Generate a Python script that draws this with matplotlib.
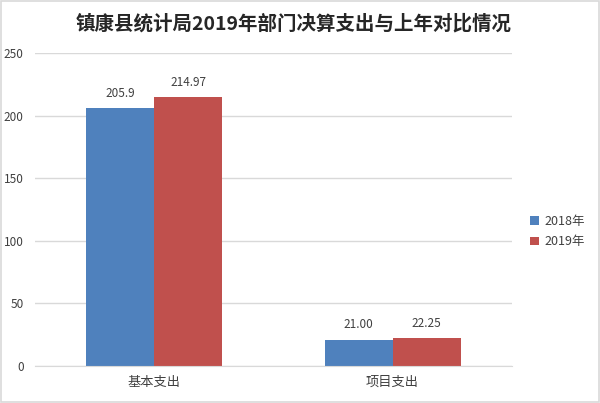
import matplotlib.pyplot as plt
import numpy as np

plt.rcParams['font.family'] = ['Noto Sans CJK SC', 'DejaVu Sans']

categorias = ["基本支出", "项目支出"]
series = ["2018年", "2019年"]
valores_2018 = [205.9, 21.00]
valores_2019 = [214.97, 22.25]
rotulos_2018 = ["205.9", "21.00"]
rotulos_2019 = ["214.97", "22.25"]
cores = ["#4F81BD", "#C0504D"]

fig = plt.figure(figsize=(6, 4.03), dpi=100)
fig.patches.append(plt.Rectangle((0.002, 0.002), 0.996, 0.996, transform=fig.transFigure,
                                 fill=False, edgecolor="#D9D9D9", linewidth=1.2))
ax = fig.add_axes([0.058, 0.092, 0.795, 0.776])

x = np.arange(len(categorias))
w = 0.285
b1 = ax.bar(x - w / 2, valores_2018, w, color=cores[0], label=series[0])
b2 = ax.bar(x + w / 2, valores_2019, w, color=cores[1], label=series[1])
ax.bar_label(b1, labels=rotulos_2018, padding=6, fontsize=8.5, color="#404040")
ax.bar_label(b2, labels=rotulos_2019, padding=6, fontsize=8.5, color="#404040")

ax.set_xlim(-0.5, 1.5)
ax.set_ylim(0, 250)
ax.set_yticks(range(0, 251, 50))
ax.set_xticks(x)
ax.set_xticklabels(categorias, fontsize=9.5, color="#404040")
ax.tick_params(axis="y", labelsize=8.5, labelcolor="#404040", length=0, pad=8)
ax.tick_params(axis="x", length=0, pad=7)
ax.grid(axis="y", color="#D9D9D9", linewidth=1)
ax.set_axisbelow(True)
for s in ["top", "right", "left"]:
    ax.spines[s].set_visible(False)
ax.spines["bottom"].set_color("#D9D9D9")

fig.suptitle("镇康县统计局2019年部门决算支出与上年对比情况", x=0.49, y=0.965,
             fontsize=14, fontweight="bold", color="#262626")
fig.legend(loc="center left", bbox_to_anchor=(0.865, 0.425), frameon=False,
           fontsize=9, handlelength=0.7, handleheight=0.7, handletextpad=0.4,
           labelspacing=0.6, labelcolor="#404040")

fig.savefig("out.png", dpi=100)
